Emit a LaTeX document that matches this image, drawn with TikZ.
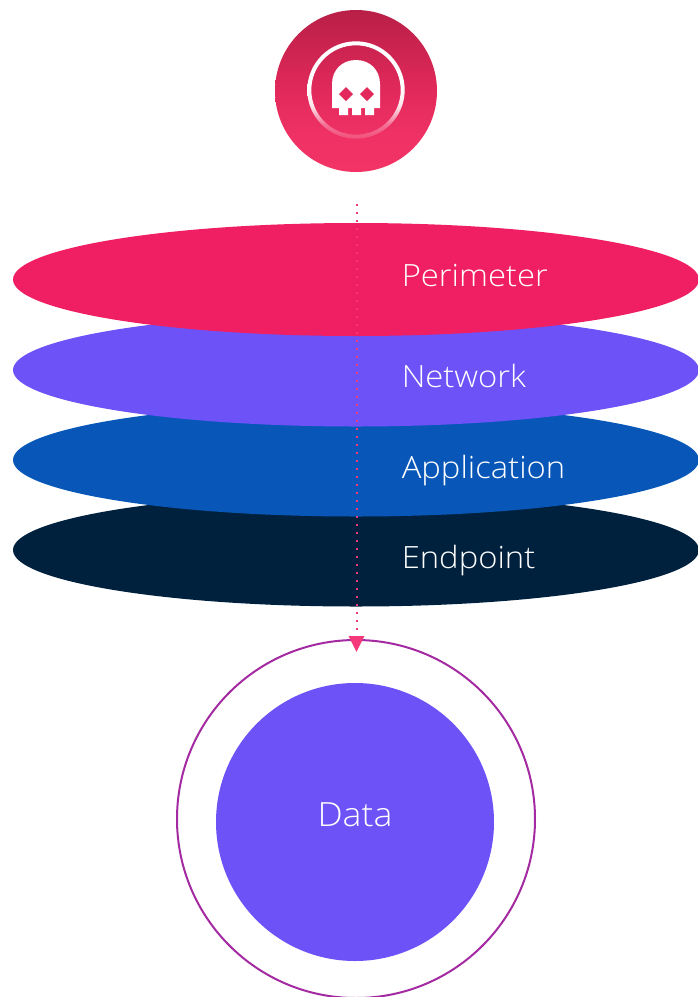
\documentclass[tikz,border=0pt]{standalone}
\usepackage{fontspec}
\setmainfont{Open Sans Light}[FakeStretch=1.07]
\usetikzlibrary{arrows.meta,shapes.geometric}
\definecolor{perimeterc}{HTML}{F01F63}
\definecolor{networkc}{HTML}{6C52F7}
\definecolor{applicationc}{HTML}{0857B8}
\definecolor{endpointc}{HTML}{00213E}
\definecolor{ringc}{HTML}{A32AA1}
\definecolor{attackc}{HTML}{F5387A}
\definecolor{threatA}{HTML}{B81F46}
\definecolor{threatB}{HTML}{E2295C}
\definecolor{threatC}{HTML}{F33365}
\definecolor{threatD}{HTML}{EF3165}
\pgfdeclareverticalshading{threatshade}{100bp}{color(0bp)=(threatC); color(25bp)=(threatC); color(37bp)=(threatD); color(50bp)=(threatB); color(75bp)=(threatA); color(100bp)=(threatA)}
\pgfdeclareverticalshading{ringshade}{100bp}{color(0bp)=(threatD!85!white); color(25bp)=(threatD!85!white); color(32bp)=(threatD!70!white); color(42bp)=(white!88!threatD); color(52bp)=(white); color(75bp)=(white); color(100bp)=(white)}
\tikzset{
  layer/.style={ellipse,inner sep=0pt,minimum width=514.5pt,minimum height=84.75pt},
  layertext/.style={anchor=base west,inner sep=0pt,text=white,font=\fontsize{23pt}{27pt}\selectfont},
  attackline/.style={draw=attackc,line width=1.5pt,dash pattern=on 1.5pt off 4.5pt,-{Triangle[length=12pt,width=11.5pt,fill=attackc]}}
}
\begin{document}
\begin{tikzpicture}[x=0.75pt,y=-0.75pt]
\useasboundingbox (0,0) rectangle (697,997);
% threat badge
\node[circle,inner sep=0pt,minimum size=121.5pt,shading=threatshade] (threat) at (356,91) {};
\path[shading=ringshade,even odd rule] (356,90) circle[radius=48.7] (356,90) circle[radius=44.7];
\fill[white] (332,108) -- (332,84) .. controls (332,70) and (342,60) .. (356,60)
  .. controls (370,60) and (380,70) .. (380,84) -- (380,108) -- (374,108) -- (374,115) -- (365,115) -- (365,108)
  -- (361,108) -- (361,115) -- (352,115) -- (352,108) -- (348,108) -- (348,115) -- (339,115) -- (339,108) -- cycle;
\fill[threatB] (346,87) -- (353,94) -- (346,101) -- (339,94) -- cycle;
\fill[threatB] (367,87) -- (374,94) -- (367,101) -- (360,94) -- cycle;
% layers
\node[layer,fill=endpointc] (endpoint) at (356,550) {};
\node[layer,fill=applicationc] (application) at (356,460) {};
\node[layer,fill=networkc] (network) at (356,370) {};
\node[layer,fill=perimeterc] (perimeter) at (356,279.5) {};
\node[layertext] (tperimeter) at (401.5,286.5) {Perimeter};
\node[layertext] (tnetwork) at (401.5,387) {Network};
\node[layertext] (tapplication) at (401.5,478) {Application};
\node[layertext] (tendpoint) at (401.5,568) {Endpoint};
% data
\node[circle,inner sep=0pt,minimum size=268.5pt,draw=ringc,line width=1.5pt] (outer) at (356,819) {};
\node[circle,inner sep=0pt,minimum size=208.5pt,fill=networkc] (data) at (355,822) {};
\node[anchor=base,inner sep=0pt,text=white,font=\fontsize{25pt}{29pt}\selectfont] (tdata) at (355,826) {Data};
% attack path
\coordinate (attackstart) at (356.5,204);
\coordinate (attackend) at (356.5,652);
\draw[attackline] (attackstart) -- (attackend);
\end{tikzpicture}
\end{document}
